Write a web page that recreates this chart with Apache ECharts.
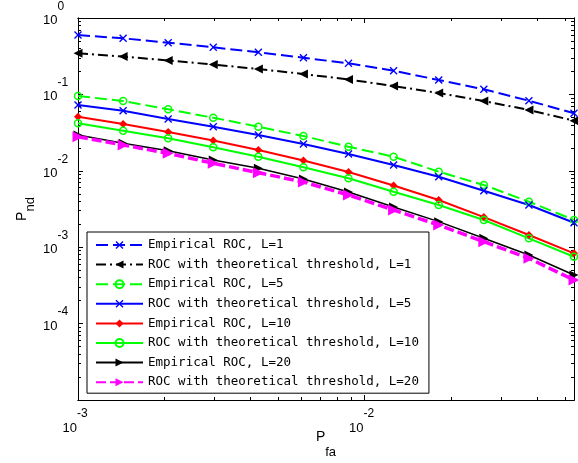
<!DOCTYPE html>
<html><head><meta charset="utf-8">
<script src="https://cdn.jsdelivr.net/npm/echarts@6/dist/echarts.min.js"></script>
<style>html,body{margin:0;padding:0;background:#fff}#c{width:578px;height:463px}</style>
</head><body><div id="c"></div>
<script>
// ---- data ----
const pfa = [0.001, 0.001437, 0.002064, 0.002965, 0.00426, 0.00612, 0.00879, 0.01263, 0.01815, 0.02608, 0.03747, 0.05383];
const empL1 = [0.599, 0.542, 0.475, 0.4135, 0.356, 0.302, 0.255, 0.204, 0.1543, 0.1166, 0.0827, 0.0566];
const thL1 = [0.345, 0.313, 0.278, 0.246, 0.215, 0.185, 0.1567, 0.1288, 0.1043, 0.0819, 0.0625, 0.0453];
const empL5 = [0.0953, 0.0819, 0.0638, 0.0495, 0.0378, 0.0285, 0.02067, 0.0153, 0.00973, 0.00652, 0.00394, 0.00227];
const thL5 = [0.0727, 0.0612, 0.0476, 0.0378, 0.0294, 0.0224, 0.0166, 0.0119, 0.00837, 0.00549, 0.00357, 0.00209];
const empL10 = [0.0511, 0.0410, 0.0322, 0.0249, 0.01872, 0.01364, 0.00964, 0.00642, 0.00415, 0.00248, 0.001445, 0.000832];
const thL10 = [0.0418, 0.0335, 0.0266, 0.0203, 0.0153, 0.0111, 0.00797, 0.00533, 0.00357, 0.00227, 0.001307, 0.000751];
const empL20 = [0.0294, 0.0229, 0.01833, 0.01385, 0.01078, 0.00781, 0.00528, 0.00336, 0.00216, 0.001307, 0.000791, 0.000433];
const thL20 = [0.0279, 0.02176, 0.01694, 0.01254, 0.00944, 0.00714, 0.00482, 0.00307, 0.001953, 0.00118, 0.000716, 0.000372];
const seriesNames = ['Empirical ROC, L=1', 'ROC with theoretical threshold, L=1', 'Empirical ROC, L=5',
  'ROC with theoretical threshold, L=5', 'Empirical ROC, L=10', 'ROC with theoretical threshold, L=10',
  'Empirical ROC, L=20', 'ROC with theoretical threshold, L=20'];
// axis ticks / labels
const xMin = 0.001, xMax = 0.05383, yMin = 1e-5, yMax = 1;
const xMajorTicks = [0.001, 0.01];
const xMinorTicks = [0.002, 0.003, 0.004, 0.005, 0.006, 0.007, 0.008, 0.009, 0.02, 0.03, 0.04, 0.05];
const xTickLabels = [0.001, 0.01];
const yMajorTicks = [1e-5, 1e-4, 1e-3, 1e-2, 1e-1, 1];
const yMinorTicks = [];
[1e-5, 1e-4, 1e-3, 1e-2, 1e-1].forEach(d => { for (let k = 2; k <= 9; k++) yMinorTicks.push(+(d * k).toPrecision(3)); });
const yTickLabels = [1, 1e-1, 1e-2, 1e-3, 1e-4];

// ---- chart ----
const FONT = 'Liberation Sans';
const XPATH = 'path://M0,1.2L1.2,0L5,3.8L8.8,0L10,1.2L6.2,5L10,8.8L8.8,10L5,6.2L1.2,10L0,8.8L3.8,5Z';
const expFmt = v => '{b|10}{s|' + Math.round(Math.log10(v)) + '}';
const labelRich = {
  b: {fontFamily: FONT, fontSize: 13, color: '#000', lineHeight: 12, padding: [14, 0, 0, 0]},
  s: {fontFamily: FONT, fontSize: 12, color: '#000', lineHeight: 12, padding: [0, 0, 14, 0]}
};
const axisLine = {show: true, onZero: false, lineStyle: {color: '#000', width: 1}};
function xAx(pos, ticks, len, labels, extra) {
  return Object.assign({
    type: 'log', logBase: 10, min: xMin, max: xMax, position: pos, gridIndex: 0,
    splitLine: {show: false}, minorTick: {show: false}, axisLine: axisLine,
    axisTick: {show: true, inside: true, length: len, customValues: ticks, lineStyle: {color: '#000', width: 1}},
    axisLabel: labels ? {show: true, customValues: labels, formatter: expFmt, margin: 15,
      padding: [0, 6, 0, 0], rich: labelRich} : {show: false}
  }, extra || {});
}
function yAx(pos, ticks, len, labels, extra) {
  return Object.assign({
    type: 'log', logBase: 10, min: yMin, max: yMax, position: pos, gridIndex: 0,
    splitLine: {show: false}, minorTick: {show: false}, axisLine: axisLine,
    axisTick: {show: true, inside: true, length: len, customValues: ticks, lineStyle: {color: '#000', width: 1}},
    axisLabel: labels ? {show: true, customValues: labels, formatter: expFmt, margin: 35, align: 'left',
      padding: [0, 0, 9, 0], rich: labelRich} : {show: false}
  }, extra || {});
}

function mk(name, ys, color, lineType, width, symbol, size, rotate, hollow) {
  return {
    name: name, type: 'line', xAxisIndex: 0, yAxisIndex: 0,
    data: pfa.map((x, i) => [x, ys[i]]),
    color: color,
    symbol: symbol, symbolSize: size, symbolRotate: rotate || 0, showAllSymbol: true,
    lineStyle: {color: color, width: width, type: lineType},
    itemStyle: hollow ? {color: 'rgba(255,255,255,0)', borderColor: color, borderWidth: 1.5}
                      : {color: color, borderWidth: 0},
    emphasis: {disabled: true}, animation: false
  };
}

const chart = echarts.init(document.getElementById('c'), null, {renderer: 'canvas'});
chart.setOption({
  animation: false,
  backgroundColor: '#fff',
  grid: {left: 78, right: 4, top: 18, bottom: 63, containLabel: false, outerBoundsMode: 'none'},
  xAxis: [
    xAx('bottom', xMajorTicks, 5, xTickLabels, {
      name: '{p|P}{u|fa}', nameLocation: 'middle', nameGap: 30, nameMoveOverlap: false,
      nameTextStyle: {rich: {
        p: {fontFamily: FONT, fontSize: 14, color: '#000', lineHeight: 15, verticalAlign: 'top'},
        u: {fontFamily: FONT, fontSize: 13, color: '#000', lineHeight: 13, padding: [16, 0, 0, 0], verticalAlign: 'top'}
      }}
    }),
    xAx('bottom', xMinorTicks, 3, null),
    xAx('top', xMajorTicks, 5, null),
    xAx('top', xMinorTicks, 3, null)
  ],
  yAxis: [
    yAx('left', yMajorTicks, 5, yTickLabels, {
      name: '{p|P}{u|nd}', nameLocation: 'middle', nameGap: 48, nameMoveOverlap: false,
      nameTextStyle: {rich: {
        p: {fontFamily: FONT, fontSize: 14, color: '#000', lineHeight: 15, verticalAlign: 'top'},
        u: {fontFamily: FONT, fontSize: 13, color: '#000', lineHeight: 13, padding: [9, 0, 0, 0], verticalAlign: 'top'}
      }}
    }),
    yAx('left', yMinorTicks, 3, null),
    yAx('right', yMajorTicks, 5, null),
    yAx('right', yMinorTicks, 3, null)
  ],
  legend: {
    orient: 'vertical', left: 87, top: 232, padding: [6, 10, 4, 8],
    itemWidth: 47, itemHeight: 10, itemGap: 5.6,
    backgroundColor: '#fff', borderColor: '#000', borderWidth: 1, borderRadius: 0,
    textStyle: {fontFamily: 'DejaVu Sans Mono', fontSize: 12.5, color: '#000', lineHeight: 14},
    data: seriesNames, selectedMode: false
  },
  series: [
    mk(seriesNames[0], empL1, '#0000ff', [12, 5], 2, XPATH, 8),
    mk(seriesNames[1], thL1, '#000000', [10, 4, 2, 4], 2, 'triangle', 9, 90),
    mk(seriesNames[2], empL5, '#00ff00', [12, 5], 2, 'circle', 7, 0, true),
    mk(seriesNames[3], thL5, '#0000ff', 'solid', 2, XPATH, 8),
    mk(seriesNames[4], empL10, '#ff0000', 'solid', 2, 'diamond', 8),
    mk(seriesNames[5], thL10, '#00ff00', 'solid', 2, 'circle', 7, 0, true),
    mk(seriesNames[6], empL20, '#000000', 'solid', 1.5, 'triangle', 9, -90),
    mk(seriesNames[7], thL20, '#ff00ff', [10, 4], 3.5, 'triangle', 11, -90)
  ]
});
</script></body></html>
